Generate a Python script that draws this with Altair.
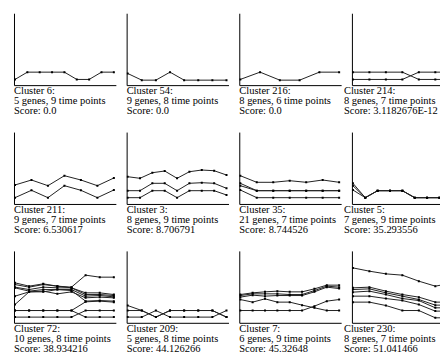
import altair as alt
import pandas as pd

# ---- data (y = level above the x axis, y scale 0..72) ----
CLUSTER_IDS = [6, 54, 216, 214, 211, 3, 35, 5, 72, 209, 7, 230]
GENES = [5, 9, 8, 8, 9, 8, 21, 7, 10, 5, 6, 8]
TIME_POINTS = [9, 8, 6, 7, 7, 9, 7, 9, 8, 8, 9, 7]
SCORES = ["0.0", "0.0", "0.0", "3.1182676E-12", "6.530617", "8.706791",
          "8.744526", "35.293556", "38.934216", "44.126266", "45.32648", "51.041466"]

C6 = [[5.7, 13, 13, 13, 13, 5.7, 5.7, 13, 13]]
C54 = [[11.7, 5, 5, 13, 5, 5, 5, 5]]
C216 = [[5.7, 13, 5, 5, 13, 13]]
C214 = [[13, 13, 13, 13, 5.7, 5.7, 5.7],
        [5.7, 5.7, 5.7, 5.7, 13, 13, 13]]
C211 = [[19, 24, 18.3, 28.3, 24, 18.3, 26],
        [6.3, 13.7, 6.3, 18.3, 13.7, 6.3, 14]]
C3 = [[27.3, 25.7, 31.3, 33, 25.7, 32.3, 34, 33.3, 29],
      [13.3, 13.3, 20.7, 20.7, 13.3, 20.7, 21.3, 20.7, 15.7],
      [6.3, 6.3, 13.3, 13.3, 6.3, 13.3, 13.3, 13.3, 9]]
C35 = [[28.3, 21.7, 21.7, 23.3, 21.7, 24, 21.7],
       [20.7, 13.3, 13.3, 13.3, 13.3, 13.3, 13.3],
       [18.3, 13.3, 13.3, 13.3, 13.3, 13.3, 13.3],
       [14, 6.3, 6.3, 6.3, 6.3, 6.3, 6.3]]
C5 = [[20.7, 6.3, 13.3, 13.3, 13.3, 6.3, 6.3, 6.3, 6.3],
      [18.3, 6.3, 13.3, 13.3, 13.3, 6.3, 6.3, 6.3, 6.3],
      [14, 6.3, 13.3, 13.3, 13.3, 6.3, 6.3, 6.3, 6.3]]
C72 = [[40, 36.7, 39, 36.7, 35.7, 47.7, 45.7, 45.7],
       [38.3, 35.7, 38.3, 36.7, 35, 30, 30, 28.3],
       [35.7, 33.3, 35.7, 35, 35, 28.3, 28.3, 27.3],
       [35, 31.7, 33.3, 33.3, 33.3, 26.7, 27.3, 26],
       [26.7, 31, 31.7, 29, 31, 25, 25.7, 25],
       [18.3, 31, 31, 33.3, 32.3, 21.7, 22.3, 21.7],
       [12.3, 12.3, 12.3, 12.3, 12.3, 21, 21.7, 20.7],
       [12.3, 12.3, 12.3, 12.3, 12.3, 5.7, 5.7, 5.7],
       [5.7, 5.7, 5.7, 5.7, 5.7, 12.3, 12.3, 12.3]]
C209 = [[17.3, 12.3, 5.7, 12.3, 12.3, 12.3, 12.3, 5.7],
        [12.3, 12.3, 5.7, 12.3, 12.3, 12.3, 12.3, 5.7],
        [5.7, 5.7, 12.3, 5.7, 5.7, 5.7, 5.7, 12.3]]
C7 = [[28.3, 30, 31, 31.7, 31, 31, 34, 37.7, 37.7],
      [27.3, 29, 29, 29, 28.3, 28.3, 32.3, 36.7, 35.7],
      [25.7, 27.7, 26.7, 27.3, 27.3, 27.3, 31, 35.7, 34.3],
      [23.3, 20.7, 24, 20.7, 20.7, 17.7, 15, 12.3, 12.3],
      [12.3, 12.3, 12.3, 12.3, 12.3, 12.3, 16.7, 21.7, 23.3]]
C230 = [[55, 51.7, 49, 47.7, 41.7, 36.7, 39.7],
        [35, 35.7, 31.7, 28.3, 25.7, 20.7, 20.7],
        [33.3, 34, 30, 26.7, 23.3, 17.7, 17.7],
        [30.7, 31.7, 28.3, 24.3, 22.3, 15, 15],
        [26.7, 26.7, 24.3, 22.3, 18.3, 11.7, 11.7],
        [20.7, 20.7, 17.3, 12.3, 12.3, 5, 5]]

SERIES = [C6, C54, C216, C214, C211, C3, C35, C5, C72, C209, C7, C230]

PANEL_W = 102
PANEL_H = 72
FONT = "Liberation Serif"


def panel(i):
    n = TIME_POINTS[i]
    rows = []
    for s, vals in enumerate(SERIES[i]):
        for t, v in enumerate(vals):
            rows.append({"series": s, "t": t, "v": v})
    df = pd.DataFrame(rows)
    step = 99.0 / (n - 1)          # px per time step
    d0 = -1.0 / step
    d1 = (PANEL_W - 1.0) / step
    x = alt.X("t:Q", scale=alt.Scale(domain=[d0, d1], nice=False, zero=False),
              axis=alt.Axis(labels=False, ticks=False, grid=False, title=None,
                            domainColor="black", domainWidth=1))
    y = alt.Y("v:Q", scale=alt.Scale(domain=[0, PANEL_H], nice=False),
              axis=alt.Axis(labels=False, ticks=False, grid=False, title=None,
                            domainColor="black", domainWidth=1))
    base = alt.Chart(df).encode(x=x, y=y, detail="series:N")
    lines = base.mark_line(color="#222222", strokeWidth=1, clip=True)
    pts = base.mark_square(size=4, color="black", opacity=1, clip=True)
    title_kw = dict(
        text=[f"Cluster {CLUSTER_IDS[i]}:",
              f"{GENES[i]} genes, {TIME_POINTS[i]} time points",
              f"Score: {SCORES[i]}"],
        orient="bottom", anchor="start", font=FONT, fontSize=10.5,
        fontWeight="normal", color="black", lineHeight=10,
        baseline="top", offset=1)
    if i % 4 == 3:
        # keep the captions of the cut-off last column whole
        title_kw["dx"] = -8
    return alt.layer(lines, pts).properties(width=PANEL_W, height=PANEL_H,
                                            title=alt.TitleParams(**title_kw))


# the last column runs past the right edge of the picture and is cut there
chart = alt.concat(*[panel(i) for i in range(12)], columns=4,
                   spacing=alt.RowColnumber(row=47, column=10.8),
                   bounds="flush").properties(
    padding={"left": 6, "top": 5, "right": -14.4, "bottom": 0}
).configure(background="white").configure_view(stroke=None)

chart.save("out.html", embed_options={"renderer": "svg", "actions": False})
